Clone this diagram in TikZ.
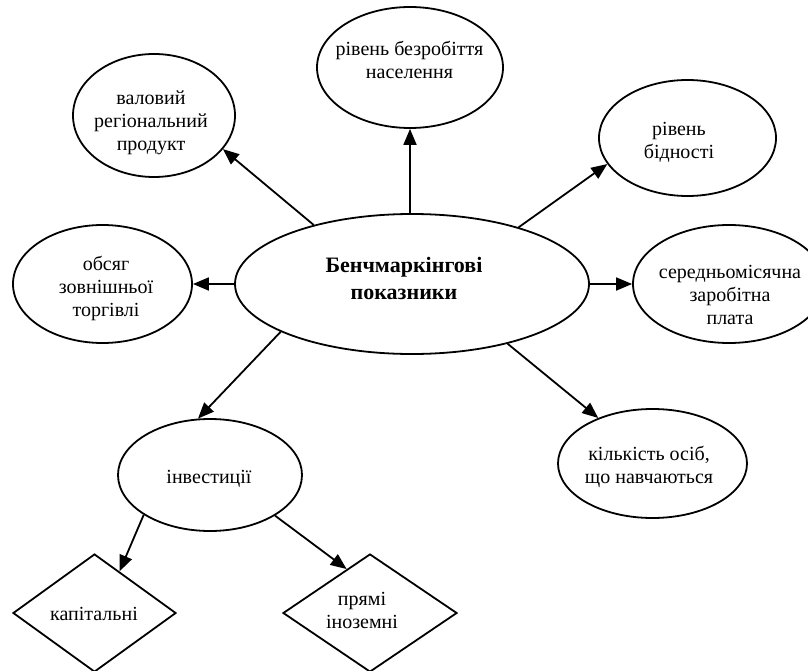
\documentclass[tikz,border=0pt]{standalone}
\usepackage{fontspec}
\setmainfont{Liberation Serif}
\usetikzlibrary{shapes.geometric,arrows.meta}
\begin{document}
\begin{tikzpicture}[x=1pt,y=-1pt,
  bub/.style={draw, ellipse, line width=1.8pt, inner sep=0pt},
  dia/.style={draw, diamond, line width=1.8pt, inner sep=0pt},
  txt/.style={align=center, inner sep=0pt, font=\fontsize{20}{23}\selectfont},
  btxt/.style={align=center, inner sep=0pt, font=\fontsize{22}{27}\selectfont\bfseries},
  arr/.style={line width=1.8pt, -{Triangle[length=16pt,width=13pt]}}]
\useasboundingbox (0,0) rectangle (808,671);
% shapes
\node[bub, minimum width=354pt, minimum height=140pt] (c) at (412,284) {};
\node[bub, minimum width=186pt, minimum height=121pt] (b) at (410,67.5) {};
\node[bub, minimum width=162pt, minimum height=123pt] (g) at (154,115.5) {};
\node[bub, minimum width=177pt, minimum height=116pt] (p) at (687.5,138) {};
\node[bub, minimum width=179pt, minimum height=118pt] (o) at (102.5,284) {};
\node[bub, minimum width=192pt, minimum height=118pt] (s) at (729,284) {};
\node[bub, minimum width=184pt, minimum height=112pt] (i) at (210,475) {};
\node[bub, minimum width=189pt, minimum height=109pt] (k) at (652.5,463.5) {};
\node[dia, minimum width=163pt, minimum height=118pt] (d1) at (94.5,613) {};
\node[dia, minimum width=174pt, minimum height=118pt] (d2) at (370,613) {};
% texts
\node[btxt] (ct) at (404,281) {\strut Бенчмаркінгові\\\strut показники};
\node[txt] (bt) at (409.5,62.4) {\strut рівень безробіття\\\strut населення};
\node[txt] (gt) at (151,123.4) {\strut валовий\\\strut регіональний\\\strut продукт};
\node[txt] (pt) at (679,142) {\strut рівень\\\strut бідності};
\node[txt] (ot) at (106,288.5) {\strut обсяг\\\strut зовнішньої\\\strut торгівлі};
\node[txt] (st) at (730,297) {\strut середньомісячна\\\strut заробітна\\\strut плата};
\node[txt] (it) at (209,478.4) {\strut інвестиції};
\node[txt] (kt) at (649,467) {\strut кількість осіб,\\\strut що навчаються};
\node[txt] (d1t) at (94,615.4) {\strut капітальні};
\node[txt] (d2t) at (362,612) {\strut прямі\\\strut іноземні};
% connectors
\draw[arr] (c.149) -- (g.-26.6);
\draw[arr] (c.north -| b.south) -- (b.south);
\draw[arr] (c.28.5) -- (p.198.5);
\draw[arr] (c.west) -- (o.east);
\draw[arr] (c.east) -- (s.west);
\draw[arr] (c.200) -- (i.102);
\draw[arr] (c.-32.3) -- (k.140.8);
\draw[arr] (i.211.4) -- (d1.59.7);
\draw[arr] (i.-32.2) -- (d2.118.7);
\end{tikzpicture}
\end{document}
